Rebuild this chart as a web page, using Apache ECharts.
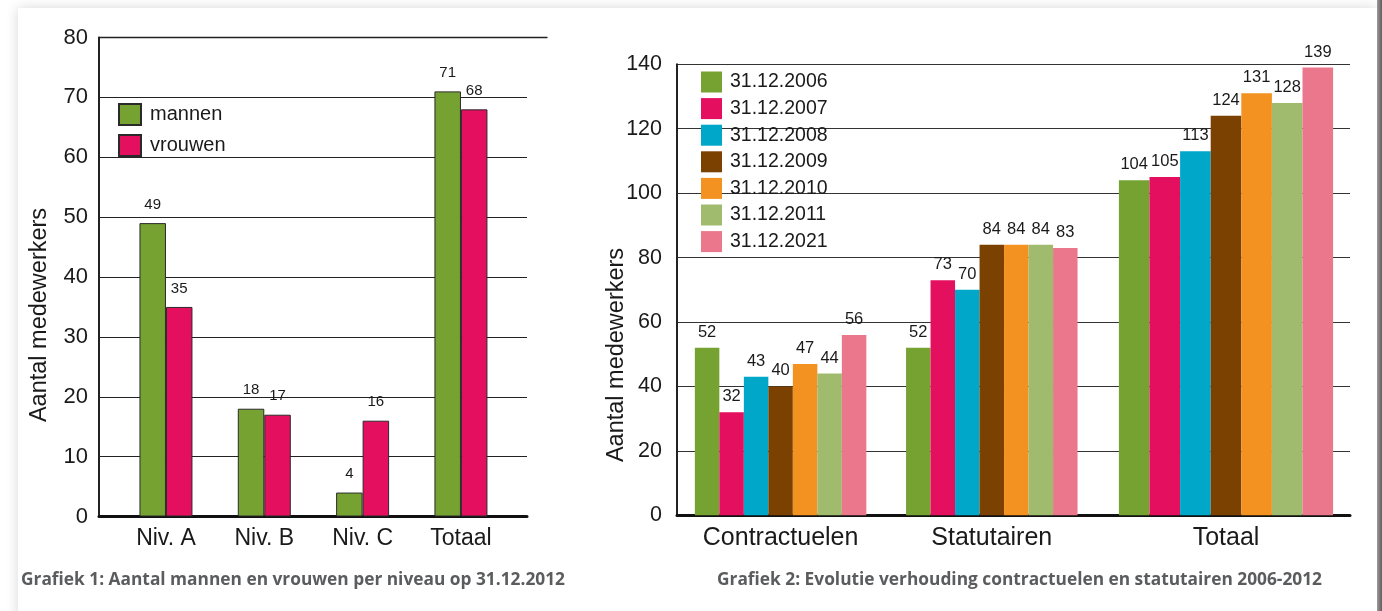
<!DOCTYPE html>
<html>
<head>
<meta charset="utf-8">
<script src="https://cdn.jsdelivr.net/npm/echarts@6/dist/echarts.min.js"></script>
<style>
  html, body { margin: 0; padding: 0; background: #ffffff; width: 1382px; height: 611px; overflow: hidden; }
  #panel { position: absolute; left: 18px; top: 8px; width: 1359px; height: 700px; background: #ffffff; box-shadow: 0 0 12px rgba(0,0,0,0.16); }
  #edge { position: absolute; left: 1377px; top: 0; width: 5px; height: 611px; background: linear-gradient(to right, #9a9a9a, #5e5e5e); }
  #chart { position: absolute; left: 0; top: 0; width: 1382px; height: 611px; }
</style>
</head>
<body>
<div id="panel"></div>
<div id="edge"></div>
<div id="chart"></div>
<script>
// ---- Chart 1 data ----
const levels = ['Niv. A', 'Niv. B', 'Niv. C', 'Totaal'];
const mannen = [49, 18, 4, 71];
const vrouwen = [35, 17, 16, 68];

// ---- Chart 2 data ----
const groups = ['Contractuelen', 'Statutairen', 'Totaal'];
const years = ['31.12.2006', '31.12.2007', '31.12.2008', '31.12.2009', '31.12.2010', '31.12.2011', '31.12.2021'];
const y2006 = [52, 52, 104];
const y2007 = [32, 73, 105];
const y2008 = [43, 70, 113];
const y2009 = [40, 84, 124];
const y2010 = [47, 84, 131];
const y2011 = [44, 84, 128];
const y2021 = [56, 83, 139];
const yearValues = [y2006, y2007, y2008, y2009, y2010, y2011, y2021];

const leftTicksMax = 80, leftInterval = 10;
const rightTicksMax = 140, rightInterval = 20;

const caption1 = 'Grafiek 1: Aantal mannen en vrouwen per niveau op 31.12.2012';
const caption2 = 'Grafiek 2: Evolutie verhouding contractuelen en statutairen 2006-2012';
const axisName = 'Aantal medewerkers';

// ---- styles ----
const FONT = '"Liberation Sans", Arial, Helvetica, sans-serif';
const TXT = '#1a1a1a';
const genderColors = ['#76a232', '#e4105f'];
const yearColors = ['#76a232', '#e4105f', '#00a7c9', '#7b4100', '#f39220', '#a1bb6e', '#ea778b'];

function fitScale(text, font, target) {
  const ctx = document.createElement('canvas').getContext('2d');
  ctx.font = font;
  return target / ctx.measureText(text).width;
}
const capFont = 'bold 18px "Open Sans"';

const chart = echarts.init(document.getElementById('chart'), null, { renderer: 'canvas' });

const T1 = 37.5, H1 = 479;
const T2 = 64.3, H2 = 451;

const hiddenY = (max, idx) => ({ type: 'value', gridIndex: idx, min: 0, max: max, show: false });

const series = [];
series.push({
  name: 'mannen', type: 'bar', xAxisIndex: 2, yAxisIndex: 2, data: mannen,
  barWidth: 26.5, barGap: '0%',
  itemStyle: { color: genderColors[0], borderColor: '#2a2a2a', borderWidth: 1 },
  label: { show: true, position: 'top', distance: 11, fontSize: 15, color: TXT, fontFamily: FONT }
});
series.push({
  name: 'vrouwen', type: 'bar', xAxisIndex: 2, yAxisIndex: 2, data: vrouwen,
  barWidth: 26.5, barGap: '0%',
  itemStyle: { color: genderColors[1], borderColor: '#2a2a2a', borderWidth: 1 },
  label: { show: true, position: 'top', distance: 11, fontSize: 15, color: TXT, fontFamily: FONT }
});
years.forEach((y, i) => {
  const lbl = { show: true, position: 'top', distance: 7, fontSize: 16.5, color: TXT, fontFamily: FONT };
  series.push({
    name: y, type: 'bar', xAxisIndex: 4, yAxisIndex: 4, data: yearValues[i].slice(0, 2),
    barWidth: 24.5, barGap: '0%', itemStyle: { color: yearColors[i] }, label: lbl
  });
  series.push({
    name: y, type: 'bar', xAxisIndex: 5, yAxisIndex: 5, data: yearValues[i].slice(2),
    barWidth: 30.6, barGap: '0%', itemStyle: { color: yearColors[i] }, label: lbl
  });
});

const option = {
  animation: false,
  backgroundColor: 'transparent',
  textStyle: { fontFamily: FONT },
  grid: [
    { left: 99, top: T1, width: 428, height: H1 },
    { left: 99, top: T1, width: 448, height: H1 },
    { left: 116.8, top: T1, width: 393.3, height: H1 },
    { left: 677, top: T2, width: 673, height: H2 },
    { left: 675, top: T2, width: 422.4, height: H2 },
    { left: 1116, top: T2, width: 220, height: H2 }
  ],
  xAxis: [
    { type: 'value', gridIndex: 0, min: 0, max: 1, axisLine: { show: true, lineStyle: { color: '#111', width: 3 } },
      axisTick: { show: false }, axisLabel: { show: false }, splitLine: { show: false } },
    { type: 'value', gridIndex: 1, position: 'top', min: 0, max: 1,
      axisLine: { show: true, onZero: false, lineStyle: { color: '#222', width: 1.3 } },
      axisTick: { show: false }, axisLabel: { show: false }, splitLine: { show: false } },
    { type: 'category', gridIndex: 2, data: levels, axisLine: { show: false }, axisTick: { show: false },
      axisLabel: { fontSize: 23, color: TXT, margin: 11, fontFamily: FONT } },
    { type: 'value', gridIndex: 3, min: 0, max: 1, axisLine: { show: true, lineStyle: { color: '#111', width: 3 } },
      axisTick: { show: false }, axisLabel: { show: false }, splitLine: { show: false } },
    { type: 'category', gridIndex: 4, data: groups.slice(0, 2), axisLine: { show: false }, axisTick: { show: false },
      axisLabel: { fontSize: 25, color: TXT, margin: 10, fontFamily: FONT } },
    { type: 'category', gridIndex: 5, data: groups.slice(2), axisLine: { show: false }, axisTick: { show: false },
      axisLabel: { fontSize: 25, color: TXT, margin: 10, fontFamily: FONT } }
  ],
  yAxis: [
    { type: 'value', gridIndex: 0, min: 0, max: leftTicksMax, interval: leftInterval,
      axisLine: { show: true, lineStyle: { color: '#222', width: 2 } }, axisTick: { show: false },
      axisLabel: { fontSize: 22, color: TXT, margin: 11, fontFamily: FONT, padding: [4, 0, 0, 0] },
      splitLine: { show: true, lineStyle: { color: '#222', width: 1.2 } } },
    hiddenY(leftTicksMax, 1),
    hiddenY(leftTicksMax, 2),
    { type: 'value', gridIndex: 3, min: 0, max: rightTicksMax, interval: rightInterval,
      axisLine: { show: true, lineStyle: { color: '#222', width: 2 } }, axisTick: { show: false },
      axisLabel: { fontSize: 21.5, color: TXT, margin: 15, fontFamily: FONT, padding: [4, 0, 0, 0] },
      splitLine: { show: true, lineStyle: { color: '#333', width: 1.2 } } },
    hiddenY(rightTicksMax, 4),
    hiddenY(rightTicksMax, 5)
  ],
  legend: [
    { data: ['mannen', 'vrouwen'], orient: 'vertical', left: 118, top: 103, padding: 0,
      itemWidth: 22, itemHeight: 21, itemGap: 8, icon: 'rect', selectedMode: false,
      textStyle: { fontSize: 20, color: TXT, fontFamily: FONT, padding: [0, 0, 0, 4] } },
    { data: years, orient: 'vertical', left: 701, top: 71.5, padding: 0,
      itemWidth: 21, itemHeight: 21, itemGap: 5.6, icon: 'rect', selectedMode: false,
      textStyle: { fontSize: 19.5, color: TXT, fontFamily: FONT, padding: [0, 0, 0, 3] } }
  ],
  graphic: [
    { type: 'text', x: 40, y: 315, rotation: Math.PI / 2,
      style: { text: axisName, font: '23.5px ' + FONT, fill: TXT, align: 'center', verticalAlign: 'middle' } },
    { type: 'text', x: 617, y: 355, rotation: Math.PI / 2,
      style: { text: axisName, font: '23.5px ' + FONT, fill: TXT, align: 'center', verticalAlign: 'middle' } },
    { type: 'text', x: 21, y: 580, scaleX: fitScale(caption1, capFont, 544),
      style: { text: caption1, font: capFont, fill: '#5b5c5e', align: 'left', verticalAlign: 'middle' } },
    { type: 'text', x: 717, y: 580, scaleX: fitScale(caption2, capFont, 605),
      style: { text: caption2, font: capFont, fill: '#5b5c5e', align: 'left', verticalAlign: 'middle' } }
  ],
  series: series
};
chart.setOption(option);
</script>
</body>
</html>
